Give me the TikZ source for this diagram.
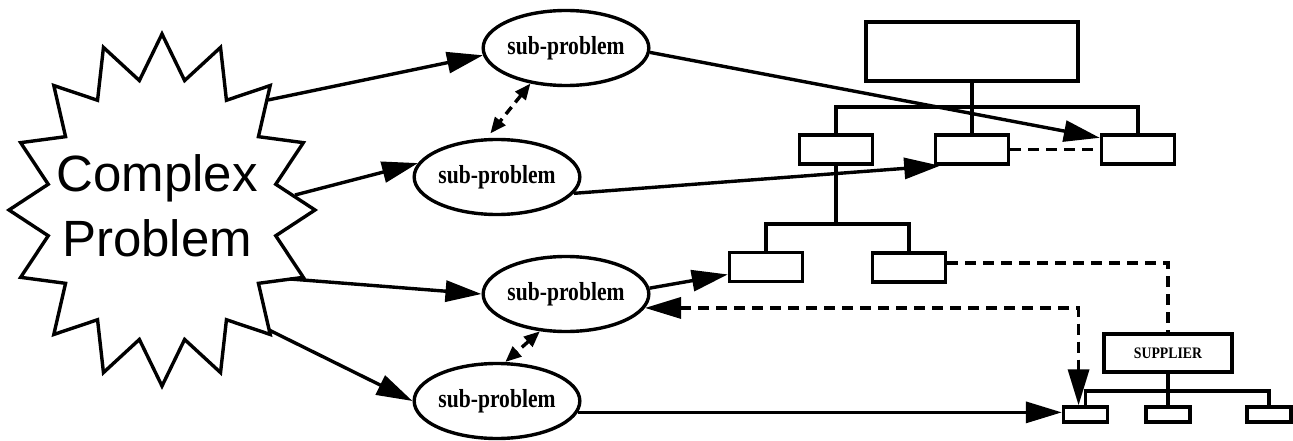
\documentclass[tikz,border=0pt]{standalone}
\usepackage{fontspec}
\setmainfont{Liberation Sans}
\newfontfamily\subfont[FakeStretch=0.83]{Liberation Serif Bold}
\newfontfamily\supfont[FakeStretch=0.86]{Liberation Serif Bold}
\usetikzlibrary{arrows.meta,shapes.geometric,calc}
\begin{document}
\begin{tikzpicture}[x=1pt,y=-1pt,
  lw/.style={line width=3.4pt},
  sub/.style={draw, lw, ellipse, inner sep=0pt, minimum width=144pt, minimum height=75pt,
    font=\subfont\fontsize{26}{26}\selectfont},
  box/.style={draw, lw, rectangle, inner sep=0pt},
  cbox/.style={box, minimum width=73pt, minimum height=29pt},
  sbox/.style={box, minimum width=44pt, minimum height=15pt},
  bigtip/.tip={Triangle[length=36pt,width=21pt]},
  smalltip/.tip={Triangle[length=16pt,width=13pt]},
  arr/.style={lw, -bigtip},
  dsh/.style={lw, dash pattern=on 11pt off 7pt},
  sdsh/.style={lw, dash pattern=on 9pt off 6pt, smalltip-smalltip},
  bigtext/.style={font=\fontsize{51}{51}\selectfont, anchor=base, inner sep=0pt}
]
\useasboundingbox (0,0) rectangle (1293,441);

% star
\draw[lw, line join=miter] plot[samples at={0,1,...,31}]
  ({162+ifthenelse(mod(\x,2)==0,153,116)*cos(\x*11.25)},
   {210-ifthenelse(mod(\x,2)==0,176,132)*sin(\x*11.25)}) -- cycle;
\node[bigtext] (cx) at (157,191) {Complex};
\node[bigtext] (pb) at (157,256) {Problem};
\coordinate (p1) at (268,100);
\coordinate (p2) at (295,195);
\coordinate (p3) at (290,279);
\coordinate (p4) at (269,330);

% sub-problems
\node[sub] (e1) at (566,48) {sub-problem};
\node[sub, minimum width=148pt] (e2) at (497,177) {sub-problem};
\node[sub] (e3) at (566,294) {sub-problem};
\node[sub, minimum width=148pt] (e4) at (497,401) {sub-problem};

% tree 1
\node[box, minimum width=212pt, minimum height=59pt] (tb) at (972,51.5) {};
\node[cbox] (c1) at (836,149.5) {};
\node[cbox] (c2) at (972,149.5) {};
\node[cbox] (c3) at (1138,149.5) {};
\node[cbox] (d1) at (766,267) {};
\node[cbox] (d2) at (909,267.5) {};
\coordinate (bar1) at (972,107);
\coordinate (bar2) at (836,224);
\draw[lw] (tb.south) -- (c2.north);
\draw[lw] (c1.north) |- (bar1) -| (c3.north);
\draw[lw] (c1.south) -- (bar2);
\draw[lw] (d1.north) |- (bar2) -| (d2.north);

% supplier tree
\node[box, minimum width=128pt, minimum height=38pt,
  font=\supfont\fontsize{16}{16}\selectfont] (sup) at (1168,353) {SUPPLIER};
\node[sbox] (s1) at (1085.5,414.5) {};
\node[sbox] (s2) at (1168,414.5) {};
\node[sbox] (s3) at (1269,414.5) {};
\coordinate (bar3) at (1168,391);
\draw[lw] (sup.south) -- (s2.north);
\draw[lw] (s1.north) |- (bar3) -| (s3.north);

% dashed links
\draw[dsh] (c2.east) -- (c3.west);
\draw[dsh] (d2.7) -| (sup.north);
\draw[dsh, bigtip-bigtip] (e3.-10) -| (s1.127);
\draw[sdsh, shorten >=6pt] (e1.225) -- (e2.105);
\draw[sdsh] (e3.235) -- (e4.78);

% solid arrows
\draw[arr] (p1) -- (e1.185);
\draw[arr] (p2) -- (e2.170);
\draw[arr] (p3) -- (e3.west);
\draw[arr] (p4) -- (e4.west);
\draw[arr] (e1.-3) -- (c3.163);
\draw[arr] (e2.-12) -- (c2.207);
\draw[arr] (e3.4) -- (d1.191);
\draw[arr] (e4.-8) -- (e4.-8 -| s1.west);
\end{tikzpicture}
\end{document}
